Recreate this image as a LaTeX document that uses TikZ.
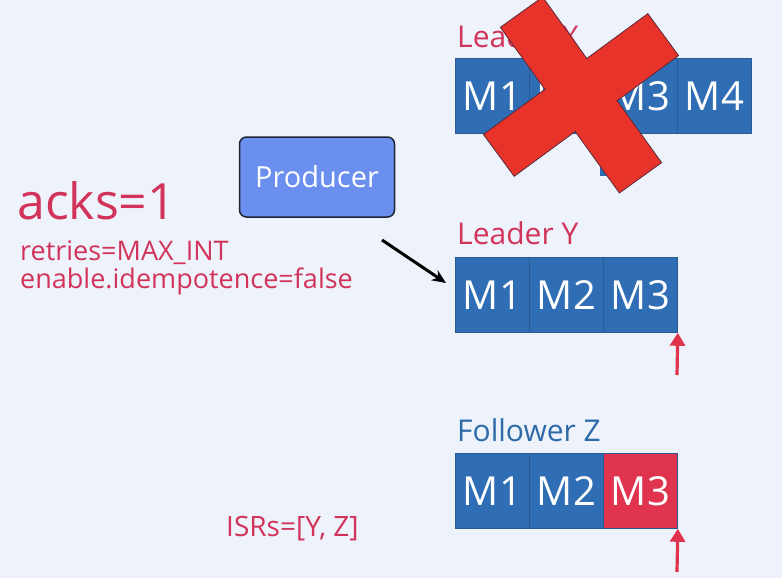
\documentclass[tikz,border=0pt]{standalone}
\usepackage{fontspec}
\setmainfont{Open Sans}
\usetikzlibrary{arrows.meta}
\definecolor{bgc}{HTML}{EEF3FB}
\definecolor{cellblue}{HTML}{2F6DB5}
\definecolor{celledge}{HTML}{2A5A94}
\definecolor{txtred}{HTML}{D2335A}
\definecolor{lblblue}{HTML}{2E6AA8}
\definecolor{cellred}{HTML}{E0344E}
\definecolor{crossred}{HTML}{E8332B}
\definecolor{crossedge}{HTML}{5A2A3A}
\definecolor{prodfill}{HTML}{6B8FEF}
\definecolor{prodedge}{HTML}{1E2433}
\tikzset{
  cell/.style={draw=celledge, line width=0.8pt, fill=cellblue, text=white,
    minimum width=74pt, minimum height=75pt, inner sep=0pt, anchor=north west,
    font=\fontsize{40}{40}\selectfont},
  redcell/.style={cell, fill=cellred},
  lbl/.style={anchor=west, inner sep=0pt, font=\fontsize{30}{30}\selectfont},
  redtxt/.style={anchor=west, inner sep=0pt, text=txtred},
  ptr/.style={-{Triangle[length=13pt,width=15pt]}, draw=cellred, fill=cellred, line width=3.2pt},
  crossbar/.style={fill=crossred, draw=crossedge, line width=0.8pt},
}
\begin{document}
\begin{tikzpicture}[x=1pt,y=-1pt]
\fill[bgc] (0,0) rectangle (782,578);
\useasboundingbox (0,0) rectangle (782,578);

% Leader X
\node[lbl, text=txtred] (lx) at (457,36) {Leader X};
\node[cell] (x1) at (455,58) {M1};
\node[cell] (x2) at (529,58) {M2};
\node[cell] (x3) at (603,58) {M3};
\node[cell] (x4) at (677,58) {M4};
\fill[cellblue] (600,160) rectangle (612,176);

% cross
\begin{scope}[shift={(581,95)}]
\draw[crossbar, rotate=-54.3] (-102,-26) rectangle (102,26);
\draw[crossbar, rotate=36.3] (-102,-26) rectangle (102,26);
\fill[crossred, rotate=-54.3] (-100,-25) rectangle (100,25);
\end{scope}

% Producer
\node[draw=prodedge, line width=1.5pt, fill=prodfill, rounded corners=7pt,
  minimum width=155pt, minimum height=80pt, text=white,
  font=\fontsize{29}{29}\selectfont] (prod) at (317,177) {Producer};

% settings text
\node[redtxt, font=\fontsize{50}{50}\selectfont] (acks) at (17,201) {acks=1};
\node[redtxt, font=\fontsize{27}{27}\selectfont] (retr) at (20,253) {retries=MAX\_INT};
\node[redtxt, font=\fontsize{27}{27}\selectfont] (idem) at (20,281) {enable.idempotence=false};
\node[redtxt, font=\fontsize{28}{28}\selectfont] (isr) at (226,529) {ISRs=[Y, Z]};

% Leader Y
\node[lbl, text=txtred] (ly) at (457,233) {Leader Y};
\node[cell] (y1) at (455,257) {M1};
\node[cell] (y2) at (529,257) {M2};
\node[cell] (y3) at (603,257) {M3};
\coordinate (ya) at (677,375);
\draw[ptr] (ya) -- (y3.south east);

% producer arrow
\coordinate (pa) at (382,240);
\draw[-{Stealth[length=14pt,width=12pt]}, line width=3pt] (pa) -- ([shift={(-9,26)}]y1.north west);

% Follower Z
\node[lbl, text=lblblue] (fz) at (457,430) {Follower Z};
\node[cell] (z1) at (455,453) {M1};
\node[cell] (z2) at (529,453) {M2};
\node[redcell] (z3) at (603,453) {M3};
\coordinate (za) at (677,572);
\draw[ptr] (za) -- (z3.south east);
\end{tikzpicture}
\end{document}
